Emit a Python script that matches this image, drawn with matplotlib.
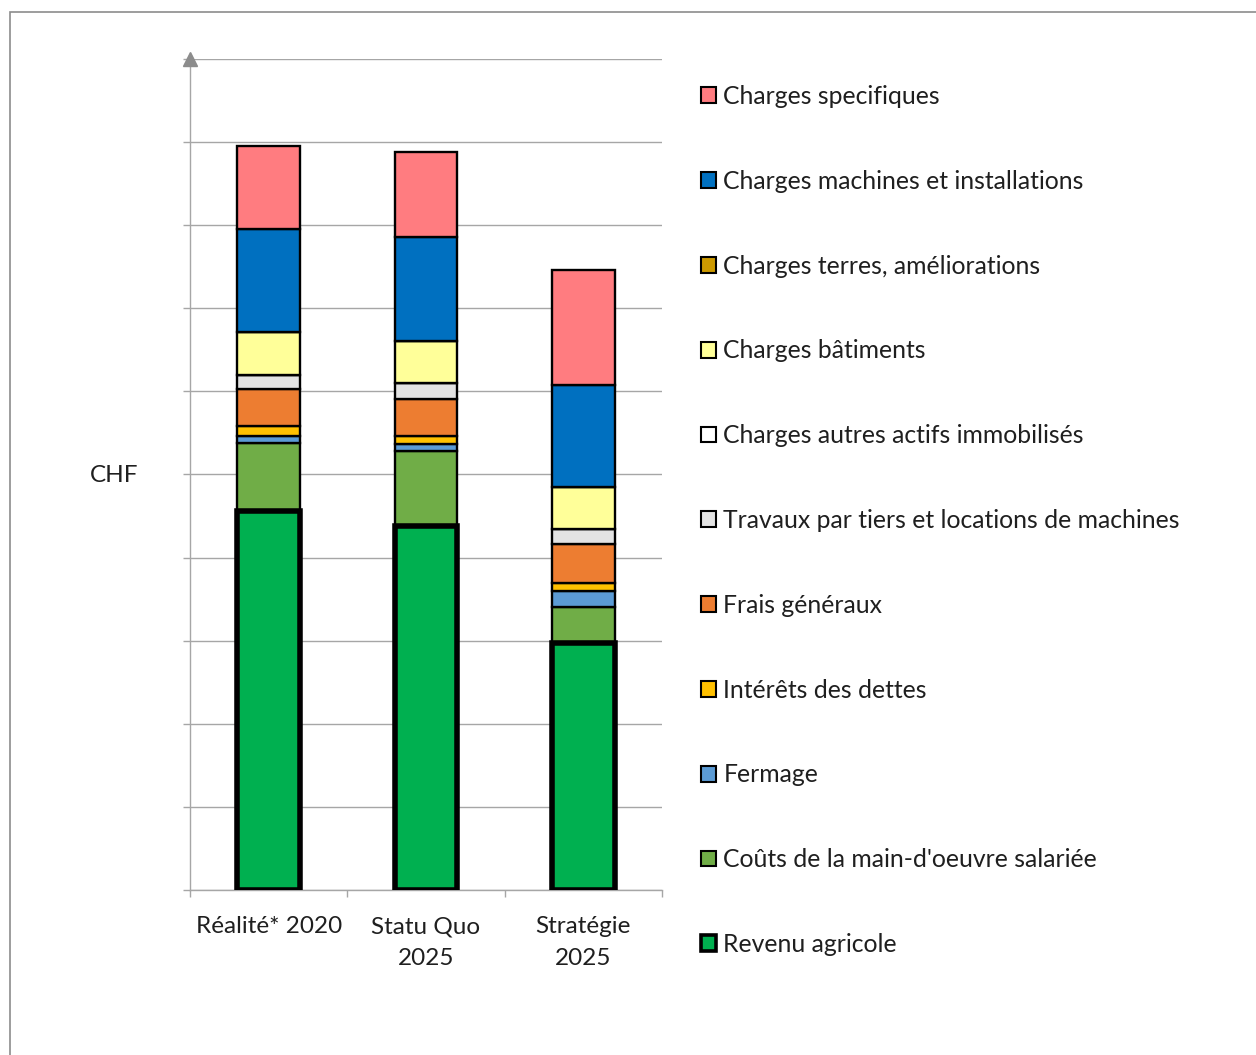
import matplotlib
matplotlib.use("Agg")
import matplotlib.pyplot as plt
from matplotlib.patches import Rectangle, Patch
import numpy as np

plt.rcParams['font.family'] = ['Lato', 'DejaVu Sans']

categories = ["Réalité* 2020", "Statu Quo\n2025", "Stratégie\n2025"]

series_names = [
    "Revenu agricole",
    "Coûts de la main-d'oeuvre salariée",
    "Fermage",
    "Intérêts des dettes",
    "Frais généraux",
    "Travaux par tiers et locations de machines",
    "Charges autres actifs immobilisés",
    "Charges bâtiments",
    "Charges terres, améliorations",
    "Charges machines et installations",
    "Charges specifiques",
]

revenu_agricole = [4.56, 4.38, 2.97]
main_oeuvre = [0.82, 0.90, 0.43]
fermage = [0.08, 0.09, 0.20]
interets = [0.12, 0.09, 0.09]
frais_generaux = [0.45, 0.45, 0.47]
travaux_tiers = [0.17, 0.19, 0.19]
autres_actifs = [0.0, 0.0, 0.0]
batiments = [0.51, 0.51, 0.50]
terres = [0.0, 0.0, 0.0]
machines = [1.25, 1.25, 1.23]
specifiques = [0.99, 1.02, 1.38]

values = [revenu_agricole, main_oeuvre, fermage, interets, frais_generaux,
          travaux_tiers, autres_actifs, batiments, terres, machines, specifiques]

colors = ["#00B050", "#70AD47", "#5B9BD5", "#FFC000", "#ED7D31",
          "#E3E3E3", "#FFFFFF", "#FFFF99", "#CC9900", "#0070C0", "#FF7C80"]

TXT = "#1f1f1f"
FS = 17.5

W, H = 1256, 1055
fig = plt.figure(figsize=(W / 100, H / 100), dpi=100)

# outer frame
fig.patches.append(Rectangle((10 / W, -0.1), 1.2, 1 - 12 / H + 0.1,
                             transform=fig.transFigure, fill=False,
                             edgecolor="#8c8c8c", linewidth=1.2))

ax = fig.add_axes([190 / W, 1 - 890 / H, 472 / W, 831 / H])
x = np.arange(len(categories))
bottom = np.zeros(len(categories))
for i, (name, vals, col) in enumerate(zip(series_names, values, colors)):
    vals = np.array(vals)
    if i == 0:
        ax.bar(x, vals, 0.4, bottom=bottom, color=col, edgecolor="black",
               linewidth=4.0, zorder=3)
    else:
        ax.bar(x, vals, 0.4, bottom=bottom, color=col, edgecolor="black",
               linewidth=1.7, zorder=2)
    bottom += vals

ax.set_xlim(-0.5, 2.5)
ax.set_ylim(0, 10)
ax.set_yticks(np.arange(0, 11, 1))
ax.set_yticklabels([])
ax.yaxis.grid(True, color="#a6a6a6", linewidth=1.0, zorder=0)
ax.set_axisbelow(True)
ax.tick_params(axis="y", length=5, color="#a6a6a6", width=1.0)

ax.set_xticks(x)
ax.set_xticklabels(categories, fontsize=FS, color=TXT, linespacing=1.62)
ax.set_xticks([-0.5, 0.5, 1.5, 2.5], minor=True)
ax.tick_params(axis="x", which="major", length=0, pad=19)
ax.tick_params(axis="x", which="minor", length=5, color="#a6a6a6", width=1.0)

for s in ["top", "right"]:
    ax.spines[s].set_visible(False)
for s in ["left", "bottom"]:
    ax.spines[s].set_color("#a6a6a6")
    ax.spines[s].set_linewidth(1.0)

# arrow head on y axis
ax.plot([-0.5], [10], marker="^", markersize=10, color="#8c8c8c",
        clip_on=False, zorder=5, transform=ax.transData)

fig.text(90 / W, 1 - 475 / H, "CHF", fontsize=FS, color=TXT,
         va="center", ha="left")

handles = []
for i, col in enumerate(colors):
    lw = 2.6 if i == 0 else 1.5
    handles.append(Patch(facecolor=col, edgecolor="black", linewidth=lw))
leg = fig.legend(handles[::-1], series_names[::-1], loc="upper left",
                 bbox_to_anchor=(701 / W, 1 - 85 / H), frameon=False,
                 fontsize=17.8, handlelength=0.6, handleheight=0.6,
                 handletextpad=0.3, labelspacing=2.5, borderaxespad=0,
                 borderpad=0)
for t in leg.get_texts():
    t.set_color(TXT)

fig.savefig("out.png", dpi=100)
